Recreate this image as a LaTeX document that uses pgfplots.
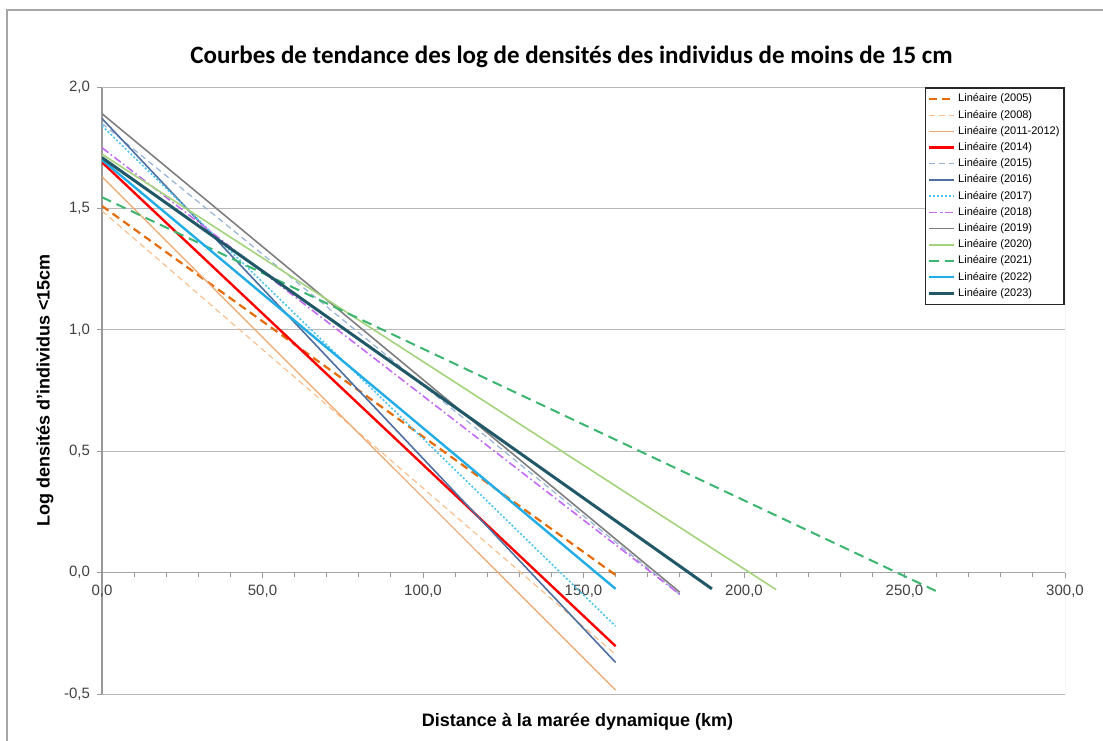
\documentclass[border=0pt]{standalone}
\usepackage{fontspec}
\setmainfont{Liberation Sans}
\newfontfamily\calibri{Carlito}
\usepackage{pgfplots}
\pgfplotsset{compat=1.18}
\definecolor{c2005}{HTML}{E46C0A}
\definecolor{c2008}{HTML}{FAC08F}
\definecolor{c2011}{HTML}{F3A66F}
\definecolor{c2014}{HTML}{FF0000}
\definecolor{c2015}{HTML}{95B3D7}
\definecolor{c2016}{HTML}{4F6FA0}
\definecolor{c2017}{HTML}{4BC5F0}
\definecolor{c2018}{HTML}{C46BF5}
\definecolor{c2019}{HTML}{7F7F7F}
\definecolor{c2020}{HTML}{A4D37C}
\definecolor{c2021}{HTML}{3BB56F}
\definecolor{c2022}{HTML}{22ADE6}
\definecolor{c2023}{HTML}{215868}
\definecolor{ticktxt}{HTML}{404040}
\begin{document}
\begin{tikzpicture}
\useasboundingbox (0,0) rectangle (551.5pt,370pt);
\draw[gray!70, line width=0.8pt] (3.5pt,-5pt) -- (3.5pt,365pt) -- (560pt,365pt);
\begin{axis}[
  at={(51pt,23pt)}, anchor=south west,
  scale only axis, width=481.5pt, height=303.5pt,
  xmin=0, xmax=300, ymin=-0.5, ymax=2,
  axis x line*=middle, axis y line*=left,
  hide obscured x ticks=false, hide obscured y ticks=false,
  xtick={0,50,...,300}, minor x tick num=4,
  ytick={-0.5,0,0.5,1,1.5,2},
  tick align=outside,
  major tick length=2.5pt, minor tick length=2pt,
  tick style={gray!80, line width=0.5pt},
  x axis line style={gray!70, line width=0.6pt},
  y axis line style={gray!80, line width=0.9pt},
  ymajorgrids, grid style={gray!55, line width=0.5pt},
  /pgf/number format/.cd, fixed, fixed zerofill, precision=1, use comma, assume math mode=true,
  /pgfplots/.cd,
  ticklabel style={font=\fontsize{7.5}{9}\selectfont, text=ticktxt},
  title={\calibri\bfseries Courbes de tendance des log de densités des individus de moins de 15 cm},
  title style={font=\fontsize{12.5}{14}\selectfont, at={(axis description cs:0.5,1)}, anchor=center, yshift=9pt, xshift=-6pt},
  xlabel={\bfseries Distance à la marée dynamique (km)},
  xlabel style={font=\fontsize{9}{11}\selectfont, at={(axis description cs:0.5,0)}, anchor=center, yshift=-14pt, xshift=-3pt},
  ylabel={\bfseries Log densités d'individus <15cm},
  ylabel style={font=\fontsize{9}{11}\selectfont, at={(axis description cs:-0.0592,0.5)}, anchor=center},
  legend cell align=left,
  legend image code/.code={\draw[mark repeat=2,mark phase=2] plot coordinates {(0cm,0cm) (0.22cm,0cm) (0.44cm,0cm)};},
  legend style={at={(1,1)}, anchor=north east, draw=black!85, line width=0.9pt,
    font=\fontsize{5.5}{6}\selectfont, fill=white,
    nodes={inner sep=1.3pt, text height=4.2pt, text depth=1.3pt},
    row sep=0pt, inner xsep=1pt, inner ysep=1.5pt},
]
\addplot[c2005, line width=1.1pt, dash pattern=on 4pt off 2.5pt] coordinates {(0,1.51) (160,-0.01)};
\addlegendentry{Linéaire (2005)}
\addplot[c2008, line width=0.6pt, dash pattern=on 3pt off 2pt] coordinates {(0,1.49) (160,-0.337)};
\addlegendentry{Linéaire (2008)}
\addplot[c2011, line width=0.6pt] coordinates {(0,1.63) (160,-0.484)};
\addlegendentry{Linéaire (2011-2012)}
\addplot[c2014, line width=1.2pt] coordinates {(0,1.69) (160,-0.303)};
\addlegendentry{Linéaire (2014)}
\addplot[c2015, line width=0.6pt, dash pattern=on 3pt off 2pt] coordinates {(0,1.85) (180,-0.09)};
\addlegendentry{Linéaire (2015)}
\addplot[c2016, line width=0.8pt] coordinates {(0,1.87) (160,-0.37)};
\addlegendentry{Linéaire (2016)}
\addplot[c2017, line width=0.8pt, dash pattern=on 1pt off 1pt] coordinates {(0,1.84) (160,-0.221)};
\addlegendentry{Linéaire (2017)}
\addplot[c2018, line width=0.8pt, dash pattern=on 4pt off 1.5pt on 0.8pt off 1.5pt] coordinates {(0,1.75) (180,-0.09)};
\addlegendentry{Linéaire (2018)}
\addplot[c2019, line width=0.8pt] coordinates {(0,1.89) (180,-0.081)};
\addlegendentry{Linéaire (2019)}
\addplot[c2020, line width=0.8pt] coordinates {(0,1.723) (210,-0.07)};
\addlegendentry{Linéaire (2020)}
\addplot[c2021, line width=1pt, dash pattern=on 5pt off 3pt] coordinates {(0,1.546) (260,-0.077)};
\addlegendentry{Linéaire (2021)}
\addplot[c2022, line width=1.2pt] coordinates {(0,1.70) (160,-0.067)};
\addlegendentry{Linéaire (2022)}
\addplot[c2023, line width=1.5pt] coordinates {(0,1.709) (190,-0.067)};
\addlegendentry{Linéaire (2023)}
\draw[gray!55, line width=0.5pt] (rel axis cs:0,0) -- (rel axis cs:1,0) -- (rel axis cs:1,1) -- (rel axis cs:0,1);
\end{axis}
\end{tikzpicture}
\end{document}
